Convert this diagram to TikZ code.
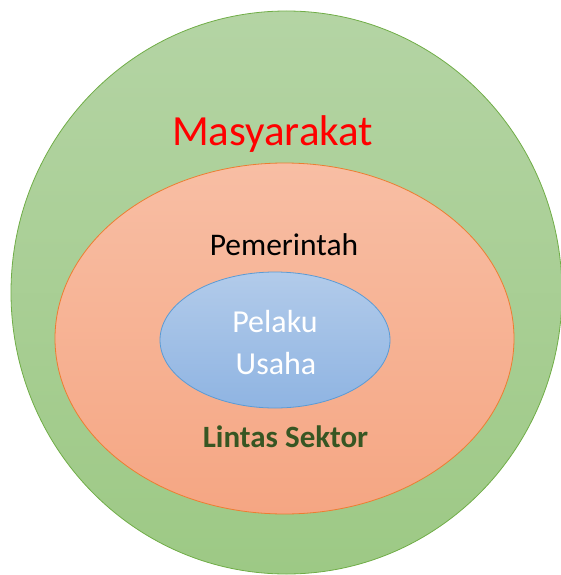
\documentclass[tikz,border=0pt]{standalone}
\usepackage{fontspec}
\setmainfont{Carlito}
\usetikzlibrary{shapes.geometric}

\definecolor{masyline}{HTML}{70AD47}
\definecolor{masytop}{RGB}{180,212,164}
\definecolor{masybot}{RGB}{157,201,133}
\definecolor{pemline}{HTML}{ED7D31}
\definecolor{pemtop}{RGB}{248,190,164}
\definecolor{pembot}{RGB}{245,166,131}
\definecolor{usahaline}{HTML}{5B9BD5}
\definecolor{usahatop}{RGB}{178,203,234}
\definecolor{usahabot}{RGB}{143,180,226}
\definecolor{sektorgreen}{HTML}{375623}

\tikzset{
  ring/.style={ellipse, inner sep=0pt, line width=0.8pt},
  lbl/.style={anchor=base, inner sep=0pt}
}

\begin{document}
\begin{tikzpicture}[x=1pt, y=-1pt]
      \useasboundingbox (0,0) rectangle (561,575);
      \clip (0,0) rectangle (561,575);
      % lingkaran luar, tengah, dalam
      \node[ring, draw=masyline, top color=masytop, bottom color=masybot,
        minimum width=551pt, minimum height=563pt] (masy) at (286.5,292.5) {};
      \node[ring, draw=pemline, top color=pemtop, bottom color=pembot,
        minimum width=459pt, minimum height=351pt] (pem) at (284.5,338.5) {};
      \node[ring, draw=usahaline, top color=usahatop, bottom color=usahabot,
        minimum width=230pt, minimum height=136pt] (usaha) at (275,340) {};
      % teks
      \node[lbl, text=red, font=\fontsize{43}{50}\selectfont] (tmasy) at (272.5,145) {Masyarakat};
      \node[lbl, font=\fontsize{31.5}{38}\selectfont] (tpem) at (284,255) {Pemerintah};
      \node[lbl, text=white, font=\fontsize{32}{38}\selectfont] (tpelaku) at (275,332) {Pelaku};
      \node[lbl, text=white, font=\fontsize{32}{38}\selectfont] (tusaha) at (276,374) {Usaha};
      \node[lbl, text=sektorgreen, font=\bfseries\fontsize{31}{37}\selectfont] (tsektor) at (285.5,447) {Lintas Sektor};
    \end{tikzpicture}
\end{document}
